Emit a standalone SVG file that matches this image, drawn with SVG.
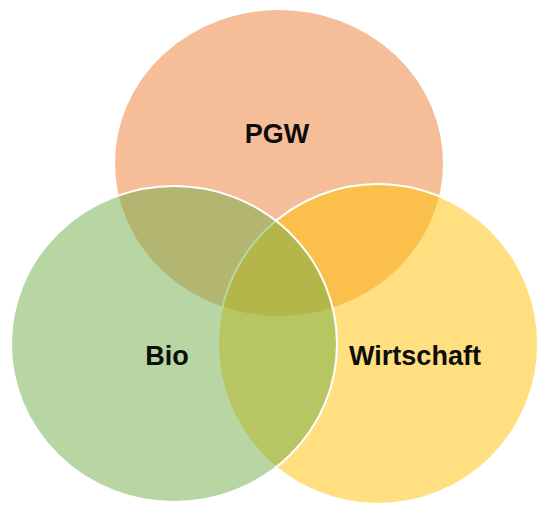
<svg xmlns="http://www.w3.org/2000/svg" width="540" height="506" viewBox="0 0 540 506">
  <style>
    .set { stroke: #ffffff; stroke-width: 2; fill-opacity: 0.5; }
    .label { font-family: "Liberation Sans", Arial, sans-serif; font-weight: bold; font-size: 27px; fill: #0d0d0d; text-anchor: middle; }
  </style>
  <rect width="540" height="506" fill="#ffffff"/>
  <g id="node-pgw">
    <ellipse class="set" cx="279" cy="163" rx="165" ry="154" fill="#ED7D31"/>
  </g>
  <g id="node-wirtschaft">
    <ellipse class="set" cx="378" cy="344" rx="160" ry="160" fill="#FFC000"/>
  </g>
  <g id="node-bio">
    <ellipse class="set" cx="174" cy="344" rx="163" ry="158" fill="#70AD47"/>
  </g>
  <g id="connectors"></g>
  <g id="labels">
    <text class="label" x="277" y="143">PGW</text>
    <text class="label" x="415" y="365">Wirtschaft</text>
    <text class="label" x="167" y="365">Bio</text>
  </g>
</svg>
